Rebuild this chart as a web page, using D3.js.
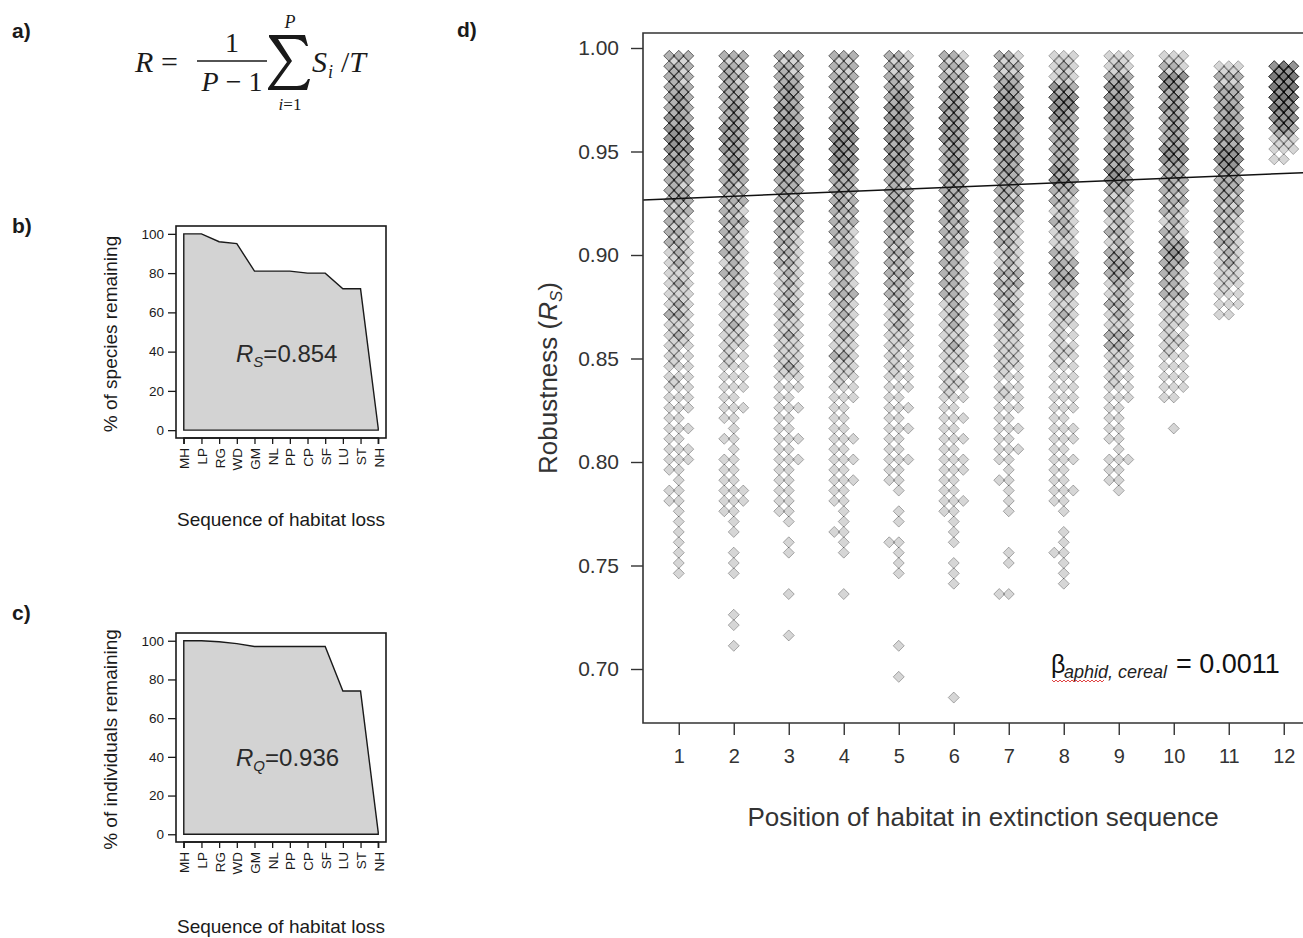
<!DOCTYPE html>
<html>
<head>
<meta charset="utf-8">
<script src="https://cdn.jsdelivr.net/npm/d3@7"></script>
<style>
body { margin: 0; background: #fff; }
svg { display: block; font-family: Arial, "Liberation Sans", sans-serif; }
</style>
</head>
<body>
<svg id="fig" width="1303" height="938"></svg>
<script>
// b) and c) habitat loss sequence
var habitats = ["MH","LP","RG","WD","GM","NL","PP","CP","SF","LU","ST","NH"];
var speciesPct = [100, 100, 96, 95, 81, 81, 81, 80, 80, 72, 72, 1];
var indivPct   = [100, 100, 99.5, 98.5, 97, 97, 97, 97, 97, 74, 74, 1];
var pctTicks = [0, 20, 40, 60, 80, 100];

// d) robustness per position in extinction sequence
var positions = [1,2,3,4,5,6,7,8,9,10,11,12];
var robTicks = [0.70, 0.75, 0.80, 0.85, 0.90, 0.95, 1.00];
var robLevels = [0.995,0.990,0.985,0.980,0.975,0.970,0.965,0.960,0.955,0.950,
                 0.945,0.940,0.935,0.930,0.925,0.920,0.915,0.910,0.905,0.900,
                 0.895,0.890,0.885,0.880,0.875,0.870,0.865,0.860,0.855,0.850,
                 0.845,0.840,0.835,0.830,0.825,0.820,0.815,0.810,0.805,0.800,
                 0.795,0.790,0.785,0.780,0.775,0.770,0.765,0.760,0.755,0.750,
                 0.745,0.740,0.735,0.730,0.725,0.720,0.715,0.710,0.705,0.700,
                 0.695,0.690,0.685];
// number of simulated sequences at each robLevel (read from darkness)
var pos1  = [8,9,9,10,11,11,12,14,14,13, 12,10,9,10,8,8,7,7,7,6, 6,5,6,5,6,7,5,6,4,4, 3,4,3,3,3,2,3,2,3,3, 2,1,2,2,1,1,1,1,1,1, 1];
var pos2  = [8,9,9,10,10,11,11,12,12,12, 11,11,9,8,8,7,8,7,7,7, 6,7,6,6,5,5,6,5,4,4, 3,3,3,2,3,2,1,2,1,2, 2,2,3,3,2,1,1,0,1,1, 1,0,0,0,1,1,0,1];
var pos3  = [8,9,10,11,11,12,12,13,13,13, 13,12,10,9,8,8,8,7,7,7, 7,6,6,6,6,6,5,6,5,5, 6,3,3,2,3,2,2,3,2,3, 2,2,2,2,2,1,0,1,1,0, 0,0,1,0,0,0,1];
var pos4  = [8,8,9,10,10,11,11,13,14,14, 13,12,10,9,9,8,8,7,7,6, 7,6,6,8,6,6,5,6,5,7, 5,4,3,3,2,2,2,3,2,3, 2,3,2,2,1,1,2,1,1,0, 0,0,1];
var pos5  = [7,8,9,10,11,12,12,12,13,12, 12,11,9,9,10,9,8,8,7,8, 7,8,7,7,6,6,6,5,4,4, 4,3,3,2,3,2,3,2,2,3, 2,2,1,0,1,1,0,2,1,1, 1,0,0,0,0,0,0,1,0,0, 1];
var pos6  = [7,8,9,10,11,12,12,12,12,11, 11,11,10,10,9,9,8,8,8,7, 7,7,7,7,6,6,6,5,6,5, 4,5,4,3,2,3,2,3,2,3, 3,2,2,3,2,1,1,1,0,1, 1,1,0,0,0,0,0,0,0,0, 0,0,1];
var pos7  = [7,8,10,11,12,13,13,12,12,12, 11,11,10,9,8,8,7,7,7,6, 6,8,8,7,6,6,6,5,5,5, 4,3,4,3,3,2,3,2,3,2, 1,2,1,1,1,0,0,0,1,1, 0,0,2];
var pos8  = [5,6,6,12,15,14,12,10,10,10, 10,12,12,8,7,6,7,6,5,7, 9,10,8,6,5,6,4,4,5,4, 3,3,3,3,3,2,3,3,2,3, 2,2,3,2,1,0,1,1,2,1, 1,1];
var pos9  = [5,6,10,12,12,12,12,11,11,12, 12,14,12,8,7,7,6,7,6,9, 10,9,6,6,7,6,5,8,7,5, 4,4,3,3,2,2,2,2,1,3, 2,2,1];
var pos10 = [5,7,14,12,11,12,11,11,11,14, 13,10,9,8,8,7,6,7,10,11, 9,7,7,8,5,5,4,5,4,3, 3,3,3,2,0,0,1];
var pos11 = [0,5,8,10,10,11,11,11,13,15, 15,11,10,9,8,8,7,7,7,6, 6,5,4,3,3,2];
var pos12 = [0,16,18,18,18,17,15,11,5,3, 2];
var posCounts = [pos1,pos2,pos3,pos4,pos5,pos6,pos7,pos8,pos9,pos10,pos11,pos12];

var betaIntercept = 0.9262;
var betaSlope = 0.0011;

var svg = d3.select("#fig");
var ink = "#1a1a1a";

// ---------- panel labels
var labs = [["a)", 12, 38], ["b)", 12, 233], ["c)", 12, 620], ["d)", 457, 37]];
svg.selectAll("text.plab").data(labs).enter().append("text")
	.attr("class", "plab")
	.attr("x", d => d[1]).attr("y", d => d[2])
	.attr("font-size", 21).attr("font-weight", "bold").attr("fill", ink)
	.text(d => d[0]);

// ---------- a) formula
var fa = svg.append("g")
	.attr("font-family", "'Liberation Serif','Times New Roman',serif")
	.attr("fill", ink);
fa.append("text").attr("x", 135).attr("y", 72).attr("font-size", 30).attr("font-style", "italic").text("R");
fa.append("text").attr("x", 161).attr("y", 72).attr("font-size", 30).text("=");
fa.append("text").attr("x", 232).attr("y", 52).attr("font-size", 28).attr("text-anchor", "middle").text("1");
fa.append("line").attr("x1", 197).attr("x2", 267).attr("y1", 61).attr("y2", 61)
	.attr("stroke", ink).attr("stroke-width", 1.4);
var pm = fa.append("text").attr("x", 232).attr("y", 91).attr("font-size", 28).attr("text-anchor", "middle");
pm.append("tspan").attr("font-style", "italic").text("P");
pm.append("tspan").text(" \u2212 1");
// summation sign drawn as a shape
fa.append("path")
	.attr("d", "M269,35 L305,35 L308,46 L306,46 Q302,39 295,39 L278,39 L292,61 L274,86 L297,86 Q305,86 308,79 L310,79 L307,90 L268,90 L268,88 L287,62 L269,37 Z")
	.attr("fill", ink);
fa.append("text").attr("x", 290).attr("y", 28).attr("font-size", 18).attr("font-style", "italic").attr("text-anchor", "middle").text("P");
var il = fa.append("text").attr("x", 290).attr("y", 110).attr("font-size", 17).attr("text-anchor", "middle");
il.append("tspan").attr("font-style", "italic").text("i");
il.append("tspan").text("=1");
fa.append("text").attr("x", 312).attr("y", 72).attr("font-size", 30).attr("font-style", "italic").text("S");
fa.append("text").attr("x", 328).attr("y", 78).attr("font-size", 18).attr("font-style", "italic").text("i");
var st = fa.append("text").attr("x", 341).attr("y", 72).attr("font-size", 30);
st.append("tspan").text("/");
st.append("tspan").attr("font-style", "italic").text("T");

// ---------- b) and c) area panels
function areaPanel(top, bottom, values, yTitle, subLetter, value, titleY, rLabelY) {
	var x = d3.scaleLinear().domain([0.56, 12.44]).range([176, 386]);
	var y = d3.scaleLinear().domain([-4, 104]).range([bottom, top]);
	var g = svg.append("g");

	var area = d3.area()
		.x((d, i) => x(i + 1))
		.y0(y(0))
		.y1(d => y(d));
	g.append("path").datum(values)
		.attr("d", area)
		.attr("fill", "#d3d3d3")
		.attr("stroke", ink).attr("stroke-width", 1.4);

	g.append("rect").attr("x", 176).attr("y", top).attr("width", 210).attr("height", bottom - top)
		.attr("fill", "none").attr("stroke", ink).attr("stroke-width", 1.6);

	var yAx = g.append("g").attr("transform", "translate(176,0)")
		.call(d3.axisLeft(y).tickValues(pctTicks).tickSize(8).tickPadding(4));
	yAx.select(".domain").remove();
	yAx.selectAll("text").attr("font-size", 13.5).attr("fill", ink).attr("font-family", "Arial, 'Liberation Sans'");
	yAx.selectAll("line").attr("stroke", ink).attr("stroke-width", 1.3);

	var xAx = g.append("g").attr("transform", "translate(0," + bottom + ")")
		.call(d3.axisBottom(x).tickValues(positions).tickSize(6).tickFormat(d => habitats[d - 1]));
	xAx.select(".domain").attr("d", "M" + x(1) + ",6V0H" + x(12) + "V6").attr("stroke", ink).attr("stroke-width", 1.3);
	xAx.selectAll("line").attr("stroke", ink).attr("stroke-width", 1.3);
	xAx.selectAll("text")
		.attr("font-size", 13.5).attr("fill", ink).attr("font-family", "Arial, 'Liberation Sans'")
		.attr("text-anchor", "end").attr("dy", null).attr("y", 0)
		.attr("transform", "translate(5,10) rotate(-90)");

	g.append("text")
		.attr("transform", "translate(117," + ((top + bottom) / 2 + 2) + ") rotate(-90)")
		.attr("text-anchor", "middle").attr("font-size", 19).attr("fill", ink)
		.text(yTitle);
	g.append("text").attr("x", 281).attr("y", titleY)
		.attr("text-anchor", "middle").attr("font-size", 19).attr("fill", ink)
		.text("Sequence of habitat loss");

	var rt = g.append("text").attr("x", 236).attr("y", rLabelY).attr("font-size", 24).attr("fill", "#2a2a2a");
	rt.append("tspan").attr("font-style", "italic").text("R");
	rt.append("tspan").attr("font-style", "italic").attr("font-size", 15).attr("dy", 5).text(subLetter);
	rt.append("tspan").attr("dy", -5).text("=" + value);
}

areaPanel(226, 438, speciesPct, "% of species remaining", "S", "0.854", 526, 362);
areaPanel(633, 842, indivPct, "% of individuals remaining", "Q", "0.936", 933, 766);

// ---------- d) robustness scatter
var L = 643, T = 33, B = 723;
var xD = d3.scaleLinear().domain([0.35, 12.65]).range([L, L + 12.3 * 55]);
var yD = d3.scaleLinear().domain([0.70, 1.00]).range([669, 48]);

var gd = svg.append("g");

// hex-like spread of the diamonds within a column
var slots = [[0, -2.5], [-9.5, -2.5], [9.5, -2.5], [-4.75, 2.5], [4.75, 2.5]];
var pts = [];
posCounts.forEach(function (cnt, p) {
	cnt.forEach(function (n, i) {
		for (var k = 0; k < n; k++) {
			pts.push({ pos: positions[p], rob: robLevels[i], slot: slots[k % 5] });
		}
	});
});

var r = 5.5;
var diamond = "M0," + (-r) + "L" + r + ",0L0," + r + "L" + (-r) + ",0Z";
gd.append("g").selectAll("path").data(pts).enter().append("path")
	.attr("d", diamond)
	.attr("transform", d => "translate(" + (xD(d.pos) + d.slot[0]) + "," + (yD(d.rob) + d.slot[1]) + ")")
	.attr("fill", "#000").attr("fill-opacity", 0.16)
	.attr("stroke", "#000").attr("stroke-opacity", 0.3).attr("stroke-width", 1);

// regression line
gd.append("line")
	.attr("x1", xD(0.35)).attr("x2", xD(12.65))
	.attr("y1", yD(betaIntercept + betaSlope * 0.35))
	.attr("y2", yD(betaIntercept + betaSlope * 12.65))
	.attr("stroke", "#111").attr("stroke-width", 1.5);

// box (right side runs off the page)
gd.append("path")
	.attr("d", "M1320," + T + "H" + L + "V" + B + "H1320")
	.attr("fill", "none").attr("stroke", "#333").attr("stroke-width", 1.6);

var yAxD = gd.append("g").attr("transform", "translate(" + L + ",0)")
	.call(d3.axisLeft(yD).tickValues(robTicks).tickFormat(d3.format(".2f")).tickSize(12).tickPadding(12));
yAxD.select(".domain").remove();
yAxD.selectAll("line").attr("stroke", "#333").attr("stroke-width", 1.4);
yAxD.selectAll("text").attr("font-size", 21).attr("fill", "#333").attr("font-family", "Arial, 'Liberation Sans'");

var xAxD = gd.append("g").attr("transform", "translate(0," + B + ")")
	.call(d3.axisBottom(xD).tickValues(positions).tickSize(12).tickPadding(14));
xAxD.select(".domain").remove();
xAxD.selectAll("line").attr("stroke", "#333").attr("stroke-width", 1.4);
xAxD.selectAll("text").attr("font-size", 20).attr("fill", "#333").attr("font-family", "Arial, 'Liberation Sans'");

gd.append("text").attr("x", 983).attr("y", 826)
	.attr("text-anchor", "middle").attr("font-size", 26).attr("fill", "#333")
	.text("Position of habitat in extinction sequence");

var rob = gd.append("text")
	.attr("transform", "translate(557,378) rotate(-90)")
	.attr("text-anchor", "middle").attr("font-size", 26).attr("fill", "#333");
rob.append("tspan").text("Robustness (");
rob.append("tspan").attr("font-style", "italic").text("R");
rob.append("tspan").attr("font-style", "italic").attr("font-size", 17).attr("dy", 5).text("S");
rob.append("tspan").attr("dy", -5).text(")");

// beta annotation
gd.append("text").attr("x", 1051).attr("y", 673).attr("font-size", 25).attr("fill", "#111").text("\u03b2");
gd.append("text").attr("x", 1064).attr("y", 678).attr("font-size", 18).attr("font-style", "italic").attr("fill", "#222")
	.text("aphid, cereal");
gd.append("text").attr("x", 1176).attr("y", 673).attr("font-size", 27).attr("fill", "#111").text("= 0.0011");
// spell-check squiggle under "aphid"
var sq = "M1052,680";
for (var s = 0; s < 13; s++) sq += "l2,2l2,-2";
gd.append("path").attr("d", sq).attr("fill", "none").attr("stroke", "#d33").attr("stroke-width", 0.9);
</script>
</body>
</html>
